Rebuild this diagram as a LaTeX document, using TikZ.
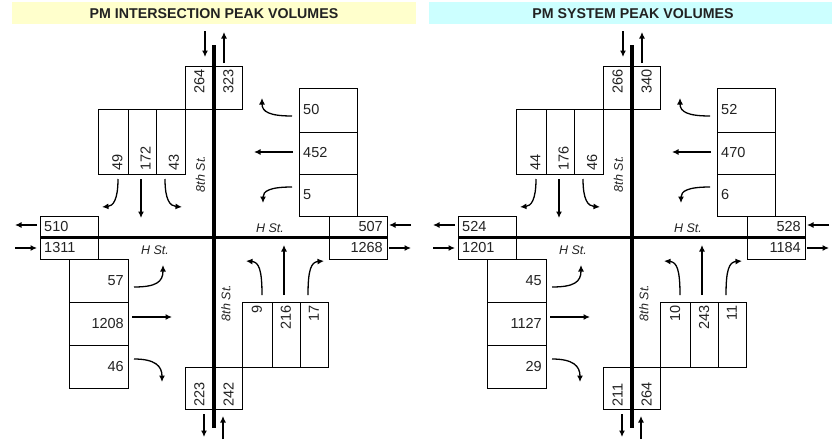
\documentclass[tikz,border=0pt]{standalone}
\usepackage{fontspec}
\setmainfont{Liberation Sans}
\usetikzlibrary{arrows.meta}
\definecolor{bandY}{HTML}{FFFFCC}
\definecolor{bandC}{HTML}{CCFFFF}
\definecolor{txt}{HTML}{222222}
\tikzset{
  road/.style={line width=3.4pt},
  box/.style={draw, line width=0.8pt},
  arr/.style={line width=1.3pt, -{Latex[length=6.5pt,width=6pt]}},
  num/.style={inner sep=0pt, text=txt, font=\fontsize{14.5}{16}\selectfont},
  lbl/.style={inner sep=0pt, text=txt, font=\fontsize{12.5}{14}\selectfont\itshape},
  ttl/.style={inner sep=0pt, text=txt, font=\fontsize{14.2}{16}\selectfont\bfseries},
}
\newcommand\drawpanel[1]{%
  % roads
  \draw[road] (214,45) -- (214,428);
  \draw[road] (40,237.5) -- (387,237.5);
  % boxes
  \draw[box] (185,66) rectangle (242,109);
  \draw[box] (98,109) rectangle (185,174);
  \draw[box] (128,109) -- (128,174) (156,109) -- (156,174);
  \draw[box] (299,88) rectangle (357,216.5);
  \draw[box] (299,132) -- (357,132) (299,174) -- (357,174);
  \draw[box] (329,216.5) rectangle (387,259);
  \draw[box] (40,216.5) rectangle (98,259);
  \draw[box] (69,259) rectangle (128,388);
  \draw[box] (69,302) -- (128,302) (69,345) -- (128,345);
  \draw[box] (242,302) rectangle (328,367);
  \draw[box] (272,302) -- (272,367) (300,302) -- (300,367);
  \draw[box] (185,367) rectangle (242,409);
  % numbers
  \node[num,rotate=90,anchor=east] (#1a) at (199.5,69) {\vA};
  \node[num,rotate=90,anchor=east] (#1b) at (228.5,69) {\vB};
  \node[num,rotate=90,anchor=west] (#1c) at (117.5,171) {\vC};
  \node[num,rotate=90,anchor=west] (#1d) at (145.5,171) {\vD};
  \node[num,rotate=90,anchor=west] (#1e) at (174,171) {\vE};
  \node[num,anchor=west] (#1f) at (303,110) {\vF};
  \node[num,anchor=west] (#1g) at (303,153) {\vG};
  \node[num,anchor=west] (#1h) at (303,195) {\vH};
  \node[num,anchor=west] (#1i) at (44,227) {\vI};
  \node[num,anchor=west] (#1j) at (44,248) {\vJ};
  \node[num,anchor=east] (#1k) at (383,227) {\vK};
  \node[num,anchor=east] (#1l) at (383,248) {\vL};
  \node[num,anchor=east] (#1m) at (124,281) {\vM};
  \node[num,anchor=east] (#1n) at (124,323.5) {\vN};
  \node[num,anchor=east] (#1o) at (124,366.5) {\vO};
  \node[num,rotate=90,anchor=east] (#1p) at (257,305) {\vP};
  \node[num,rotate=90,anchor=east] (#1q) at (286,305) {\vQ};
  \node[num,rotate=90,anchor=east] (#1r) at (314,305) {\vR};
  \node[num,rotate=90,anchor=west] (#1s) at (199.5,407) {\vS};
  \node[num,rotate=90,anchor=west] (#1t) at (228.5,407) {\vT};
  % street labels
  \node[lbl] (#1hw) at (155,250) {H St.};
  \node[lbl] (#1he) at (270,228) {H St.};
  \node[lbl,rotate=90] (#1sn) at (200.5,174) {8th St.};
  \node[lbl,rotate=90] (#1ss) at (226,303) {8th St.};
  % leg arrows
  \draw[arr] (205,31) -- (205,57);
  \draw[arr] (224,63) -- (224,32);
  \draw[arr] (204,414) -- (204,437);
  \draw[arr] (223,439) -- (223,416);
  \draw[arr] (37,225) -- (15,225);
  \draw[arr] (15,248) -- (37,248);
  \draw[arr] (411,225) -- (389,225);
  \draw[arr] (389,248) -- (411,248);
  % southbound movements
  \draw[arr] (118,179) .. controls (118,200) and (113,206) .. (102,207);
  \draw[arr] (141,179) -- (141,218);
  \draw[arr] (165,179) .. controls (165,200) and (170,206) .. (182,207);
  % westbound movements
  \draw[arr] (292,116) .. controls (270,116) and (262,112) .. (262,98);
  \draw[arr] (293,152) -- (254,152);
  \draw[arr] (292,187) .. controls (270,187) and (263,191) .. (263,203);
  % eastbound movements
  \draw[arr] (134,287) .. controls (156,287) and (163,282) .. (163,265);
  \draw[arr] (132,317) -- (172,317);
  \draw[arr] (134,359) .. controls (155,359) and (162,366) .. (162,382);
  % northbound movements
  \draw[arr] (262,295) .. controls (262,270) and (259,262) .. (246,261);
  \draw[arr] (284,295) -- (284,245);
  \draw[arr] (308,295) .. controls (308,270) and (311,262) .. (324,261);
}
\begin{document}
\begin{tikzpicture}[x=1pt,y=-1pt]
  \useasboundingbox (0,0) rectangle (832,439);
  \fill[bandY] (12,2) rectangle (416,24);
  \fill[bandC] (429,2) rectangle (832,24);
  \node[ttl] (t1) at (214,13.5) {PM INTERSECTION PEAK VOLUMES};
  \node[ttl] (t2) at (633,13.5) {PM SYSTEM PEAK VOLUMES};
  \begin{scope}
    \def\vA{264}\def\vB{323}\def\vC{49}\def\vD{172}\def\vE{43}%
    \def\vF{50}\def\vG{452}\def\vH{5}\def\vI{510}\def\vJ{1311}%
    \def\vK{507}\def\vL{1268}\def\vM{57}\def\vN{1208}\def\vO{46}%
    \def\vP{9}\def\vQ{216}\def\vR{17}\def\vS{223}\def\vT{242}%
    \drawpanel{L}
  \end{scope}
  \begin{scope}[xshift=418pt]
    \def\vA{266}\def\vB{340}\def\vC{44}\def\vD{176}\def\vE{46}%
    \def\vF{52}\def\vG{470}\def\vH{6}\def\vI{524}\def\vJ{1201}%
    \def\vK{528}\def\vL{1184}\def\vM{45}\def\vN{1127}\def\vO{29}%
    \def\vP{10}\def\vQ{243}\def\vR{11}\def\vS{211}\def\vT{264}%
    \drawpanel{R}
  \end{scope}
\end{tikzpicture}
\end{document}
